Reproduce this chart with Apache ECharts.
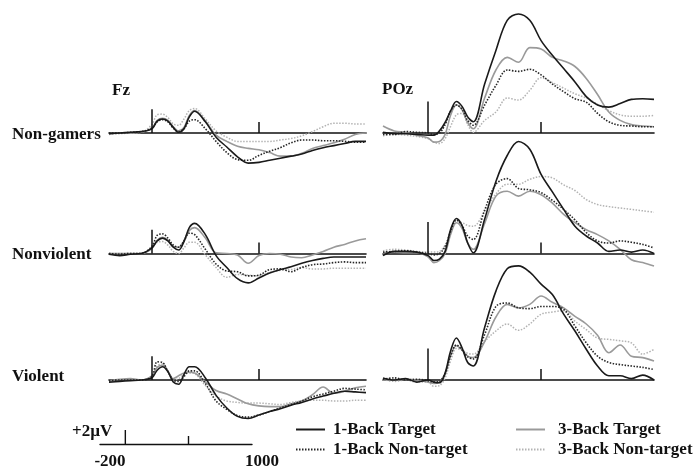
<!DOCTYPE html>
<html>
<head>
<meta charset="utf-8">
<script src="https://cdn.jsdelivr.net/npm/echarts@6/dist/echarts.min.js"></script>
<style>
html, body { margin: 0; padding: 0; background: #fff; }
#erp { width: 697px; height: 468px; }
</style>
</head>
<body>
<div id="erp"></div>
<script>
// time points (ms) shared by every waveform
var times = [-200, -150, -100, -50, 0, 25, 50, 75, 100, 125, 150, 175, 200, 250, 300, 350, 400, 450, 500, 550, 600, 650, 700, 750, 800, 850, 900, 950, 1000];
var groups = ['Non-gamers', 'Nonviolent', 'Violent'];
var sites = ['Fz', 'POz'];
var conditions = ['1-Back Target', '1-Back Non-target', '3-Back Target', '3-Back Non-target'];

// amplitudes in µV
// Fz
var fzNG_1T = [-0.1, 0, 0.1, 0.2, 0.6, 1.7, 2.0, 1.7, 0.8, 0.1, 0.6, 2.3, 3.1, 1.6, -0.6, -2.0, -3.4, -4.3, -4.2, -3.9, -3.6, -3.3, -3.0, -2.5, -2.1, -1.8, -1.5, -1.2, -1.2];
var fzNG_1N = [0, 0, 0.1, 0.2, 0.7, 1.6, 1.9, 1.6, 0.7, 0.2, 0.6, 1.7, 1.9, 0.6, -1.2, -2.8, -3.8, -3.9, -3.2, -2.6, -2.1, -1.4, -1.0, -1.0, -1.1, -1.1, -1.2, -1.3, -1.3];
var fzNG_3T = [-0.1, 0, 0, 0.1, 0.7, 1.8, 2.1, 1.8, 0.9, 0.3, 0.8, 2.5, 3.2, 1.7, -0.3, -1.2, -1.9, -2.2, -2.4, -2.8, -3.3, -3.3, -2.9, -2.2, -1.8, -1.4, -0.9, -0.2, 0.0];
var fzNG_3N = [-0.2, -0.1, 0, 0.1, 1.2, 2.6, 2.7, 2.2, 1.3, 1.1, 2.0, 3.2, 3.5, 2.0, 0.3, -0.6, -1.2, -1.2, -1.2, -1.2, -1.0, -0.8, -0.4, 0.2, 0.9, 1.4, 1.4, 1.3, 1.3];

var fzNV_1T = [-0.1, -0.3, -0.1, 0, 0.8, 1.8, 2.2, 1.8, 0.9, 0.5, 1.7, 3.7, 4.3, 2.7, -0.3, -2.0, -3.6, -4.2, -3.5, -2.8, -2.3, -1.9, -1.4, -1.0, -0.7, -0.5, -0.5, -0.5, -0.5];
var fzNV_1N = [0, -0.1, 0, 0, 1.0, 2.6, 2.8, 2.2, 1.2, 0.9, 1.8, 2.9, 2.7, 0.6, -1.5, -2.5, -2.6, -3.2, -3.1, -2.3, -2.2, -2.6, -2.0, -1.6, -1.5, -1.3, -1.2, -1.3, -1.3];
var fzNV_3T = [0, 0, 0, 0, 0.7, 1.9, 2.3, 1.9, 1.0, 0.9, 1.8, 3.3, 3.7, 2.2, 0.1, 0, -0.2, -1.4, -0.3, 0, -0.1, -0.5, -0.6, -0.2, 0.3, 0.9, 1.3, 1.8, 2.1];
var fzNV_3N = [0, 0, 0, 0, 0.8, 1.6, 1.7, 1.2, 0.3, 0, 0.8, 1.6, 1.6, -0.2, -2.0, -3.4, -3.0, -3.1, -3.2, -2.7, -2.4, -2.3, -2.0, -2.2, -2.2, -2.1, -2.1, -2.1, -2.1];

var fzV_1T = [-0.3, -0.2, -0.1, 0, 0.3, 1.4, 1.9, 1.2, -0.3, -0.6, 0.8, 1.9, 1.9, 0.3, -2.2, -4.0, -5.2, -5.5, -5.0, -4.5, -4.1, -3.6, -3.2, -2.7, -2.3, -1.9, -1.6, -1.7, -1.8];
var fzV_1N = [-0.1, 0, 0, 0, 0.5, 2.6, 2.5, 1.2, 0, -0.2, 0.5, 1.3, 1.3, -0.5, -3.0, -4.2, -5.1, -5.3, -5.0, -4.5, -4.0, -3.5, -3.0, -2.4, -2.0, -1.6, -1.2, -1.3, -1.4];
var fzV_3T = [-0.1, 0.1, 0.2, 0, 0.6, 1.8, 2.1, 1.3, 0.2, 0.6, 1.0, 1.1, 1.0, -0.3, -1.5, -2.0, -2.7, -3.4, -3.7, -3.8, -3.8, -3.4, -3.0, -2.1, -1.0, -1.9, -1.6, -1.1, -0.9];
var fzV_3N = [-0.1, 0, 0, 0, 0.5, 2.0, 2.3, 1.3, 0, 0.2, 0.8, 1.0, 0.9, -0.8, -2.3, -3.0, -3.2, -3.3, -3.3, -3.4, -3.5, -3.2, -3.0, -2.9, -2.9, -3.0, -3.0, -2.9, -2.9];

// POz
var pzNG_1T = [0.1, -0.1, -0.1, -0.2, -0.3, -0.3, 0.3, 1.5, 3.2, 4.5, 3.8, 2.3, 1.6, 7.0, 11.8, 16.1, 17.0, 16.1, 13.2, 11.1, 9.2, 7.3, 5.2, 4.0, 3.7, 4.2, 4.8, 4.9, 4.8];
var pzNG_1N = [-0.2, -0.2, 0.2, 0.1, 0, -0.2, 0, 1.2, 3.2, 4.0, 3.4, 1.8, 1.1, 4.0, 6.8, 9.0, 8.8, 9.1, 8.3, 7.0, 5.9, 4.9, 4.4, 2.8, 1.6, 1.1, 1.0, 0.9, 0.9];
var pzNG_3T = [1.0, 0.3, 0.1, -0.3, -0.7, -1.3, -1.2, -0.2, 2.6, 4.0, 3.3, 1.5, 0.6, 5.0, 9.0, 10.8, 10.1, 12.2, 12.0, 10.8, 10.3, 9.5, 7.8, 5.5, 3.0, 1.8, 1.2, 1.0, 0.9];
var pzNG_3N = [-0.4, -0.2, -0.3, -0.5, -0.8, -1.3, -1.5, -0.8, 1.0, 2.6, 2.8, 1.2, 0.1, 1.8, 3.0, 5.0, 4.7, 6.1, 7.9, 7.2, 6.4, 5.6, 5.0, 4.1, 3.2, 2.6, 2.4, 2.4, 2.5];

var pzNV_1T = [-0.3, 0.3, 0.3, 0.2, -0.3, -1.0, -0.8, 0.3, 3.5, 5.0, 4.0, 1.5, 0.1, 4.9, 10.3, 14.0, 16.0, 14.9, 11.3, 8.8, 6.3, 3.9, 2.5, 1.5, 0.3, 0.5, 0.2, 0.5, 0];
var pzNV_1N = [0.2, 0.3, 0.4, 0.2, 0, -0.2, 0, 1.0, 3.2, 4.8, 4.0, 2.5, 2.0, 6.2, 9.9, 10.7, 9.3, 9.1, 8.7, 7.6, 6.3, 4.8, 3.0, 1.8, 1.5, 1.8, 1.6, 1.3, 0.8];
var pzNV_3T = [0.1, 0.2, 0.1, 0.1, -0.5, -1.3, -1.0, 0, 2.8, 4.4, 3.6, 1.5, 0.6, 4.3, 8.2, 8.9, 8.2, 8.9, 8.4, 7.2, 5.6, 4.4, 3.4, 2.7, 1.8, 0.6, -0.9, -1.3, -1.8];
var pzNV_3N = [0.4, 0.6, 0.5, 0.3, 0.2, 0.2, 0.3, 1.2, 3.0, 4.6, 4.4, 4.0, 3.9, 6.0, 8.5, 9.9, 9.9, 10.6, 11.0, 10.8, 9.8, 9.0, 7.7, 7.0, 6.7, 6.5, 6.3, 6.1, 5.9];

var pzV_1T = [0.3, 0, 0.2, -0.3, 0, -0.3, -0.4, 1.0, 4.2, 6.0, 4.6, 2.5, 2.0, 7.5, 12.7, 15.9, 16.3, 15.4, 13.7, 12.2, 9.4, 7.0, 4.4, 2.0, 0.6, 0.6, 0.2, 0.7, 0];
var pzV_1N = [0.1, 0.3, 0, 0.1, -0.1, -0.3, -0.2, 1.0, 3.5, 5.0, 4.3, 3.3, 3.0, 6.5, 10.5, 11.0, 10.3, 10.2, 10.5, 10.5, 10.1, 7.7, 5.3, 3.4, 2.5, 2.2, 2.0, 1.8, 1.5];
var pzV_3T = [0, 0, 0.1, 0, -0.3, -0.5, -0.3, 0.8, 3.5, 4.9, 4.3, 3.4, 3.2, 5.5, 9.0, 10.8, 10.3, 10.8, 12.0, 11.1, 10.3, 9.1, 8.0, 6.4, 3.9, 5.0, 3.4, 3.2, 2.7];
var pzV_3N = [0.1, -0.2, 0, -0.3, -0.3, -0.9, -0.8, 0.3, 2.8, 4.5, 4.3, 3.8, 3.7, 5.5, 7.0, 8.0, 7.1, 8.0, 9.4, 9.7, 9.9, 8.4, 7.2, 6.0, 5.8, 5.6, 5.3, 3.7, 4.4];

var xTicks = [500];            // small tick on each baseline
var onsetTick = [3.4, 4.5];    // height (µV) of the stimulus-onset marker, Fz / POz
var scaleLabels = [-200, 1000];
var scaleBarUV = 2;

// [row][col] -> the four conditions
var panels = [
  [[fzNG_1T, fzNG_1N, fzNG_3T, fzNG_3N], [pzNG_1T, pzNG_1N, pzNG_3T, pzNG_3N]],
  [[fzNV_1T, fzNV_1N, fzNV_3T, fzNV_3N], [pzNV_1T, pzNV_1N, pzNV_3T, pzNV_3N]],
  [[fzV_1T, fzV_1N, fzV_3T, fzV_3N], [pzV_1T, pzV_1N, pzV_3T, pzV_3N]]
];

var chart = echarts.init(document.getElementById('erp'));
var font = '"Liberation Serif", "Times New Roman", serif';
var colLeft = [109, 383], colWidth = [257, 271];
var rowBase = [133, 253.5, 380];
var pxPerUV = 7, yMin = -7, yMax = 18;
var styles = [
  { color: '#1a1a1a', width: 1.6, type: 'solid' },
  { color: '#262626', width: 1.6, type: [1.5, 1.5] },
  { color: '#9a9a9a', width: 1.6, type: 'solid' },
  { color: '#b3b3b3', width: 1.5, type: [1.5, 1.5] }
];
var drawOrder = [3, 2, 1, 0];

var grid = [], xAxis = [], yAxis = [], series = [];
panels.forEach(function (row, r) {
  row.forEach(function (cond, c) {
    var idx = grid.length;
    grid.push({
      left: colLeft[c], width: colWidth[c],
      top: rowBase[r] - yMax * pxPerUV, height: (yMax - yMin) * pxPerUV,
      containLabel: false, outerBoundsMode: 'none'
    });
    xAxis.push({
      gridIndex: idx, type: 'value', min: -200, max: 1000,
      axisLine: { show: true, onZero: true, lineStyle: { color: '#111', width: 1.6 } },
      axisTick: { show: true, inside: true, length: 11, customValues: xTicks, lineStyle: { color: '#111', width: 1.5 } },
      axisLabel: { show: false },
      splitLine: { show: false }
    });
    yAxis.push({ gridIndex: idx, type: 'value', min: yMin, max: yMax, show: false, splitLine: { show: false } });
    drawOrder.forEach(function (k) {
      var s = {
        name: conditions[k], type: 'line', xAxisIndex: idx, yAxisIndex: idx,
        data: times.map(function (t, i) { return [t, cond[k][i]]; }),
        symbol: 'none', showSymbol: false, smooth: 0.35,
        lineStyle: styles[k], itemStyle: { color: styles[k].color },
        silent: true
      };
      if (k === 0) {
        s.markLine = {
          silent: true, symbol: 'none', label: { show: false },
          lineStyle: { color: '#111', width: 1.5, type: 'solid' },
          data: [[{ coord: [0, 0] }, { coord: [0, onsetTick[c]] }]]
        };
      }
      series.push(s);
    });
  });
});

// scale bar
var sIdx = grid.length;
grid.push({ left: 100, width: 152, top: 430, height: 14, containLabel: false, outerBoundsMode: 'none' });
xAxis.push({
  gridIndex: sIdx, type: 'value', min: -200, max: 1000,
  axisLine: { show: true, lineStyle: { color: '#111', width: 1.4 } },
  axisTick: { show: true, inside: true, length: 8, customValues: xTicks, lineStyle: { color: '#111', width: 1.4 } },
  axisLabel: {
    show: true, customValues: scaleLabels, margin: 9, padding: [0, 0, 0, 20],
    formatter: function (v) { return String(v); },
    fontFamily: font, fontWeight: 'bold', fontSize: 17, color: '#111'
  },
  splitLine: { show: false }
});
yAxis.push({ gridIndex: sIdx, type: 'value', min: 0, max: scaleBarUV, show: false });
series.push({
  name: 'scale', type: 'line', xAxisIndex: sIdx, yAxisIndex: sIdx,
  data: [[0, 0], [0, scaleBarUV]], symbol: 'none', silent: true,
  lineStyle: { color: '#111', width: 1.4 }
});

var textStyle = { fontFamily: font, fontWeight: 'bold', fontSize: 17, color: '#111' };
var graphic = [];
function label(text, x, y, size) {
  graphic.push({
    type: 'text', x: x, y: y, silent: true,
    style: { text: text, fill: '#111', fontFamily: font, fontWeight: 'bold', fontSize: size, verticalAlign: 'middle' }
  });
}
label(sites[0], 112, 91, 17);
label(sites[1], 382, 90, 17);
label(groups[0], 12, 135, 17);
label(groups[1], 12, 255, 17);
label(groups[2], 12, 377, 17);
label('+2\u00b5V', 72, 432, 17);

chart.setOption({
  animation: false,
  backgroundColor: '#fff',
  grid: grid,
  xAxis: xAxis,
  yAxis: yAxis,
  legend: [{
    data: conditions.slice(0, 2), orient: 'vertical', left: 290, top: 416,
    itemWidth: 29, itemHeight: 12, itemGap: 3, selectedMode: false,
    itemStyle: { opacity: 0 },
    textStyle: Object.assign({ padding: [0, 0, 0, 3] }, textStyle)
  }, {
    data: conditions.slice(2), orient: 'vertical', left: 510, top: 416,
    itemWidth: 29, itemHeight: 12, itemGap: 3, selectedMode: false,
    itemStyle: { opacity: 0 },
    textStyle: Object.assign({ padding: [0, 0, 0, 8] }, textStyle)
  }],
  graphic: graphic,
  series: series
});
</script>
</body>
</html>
